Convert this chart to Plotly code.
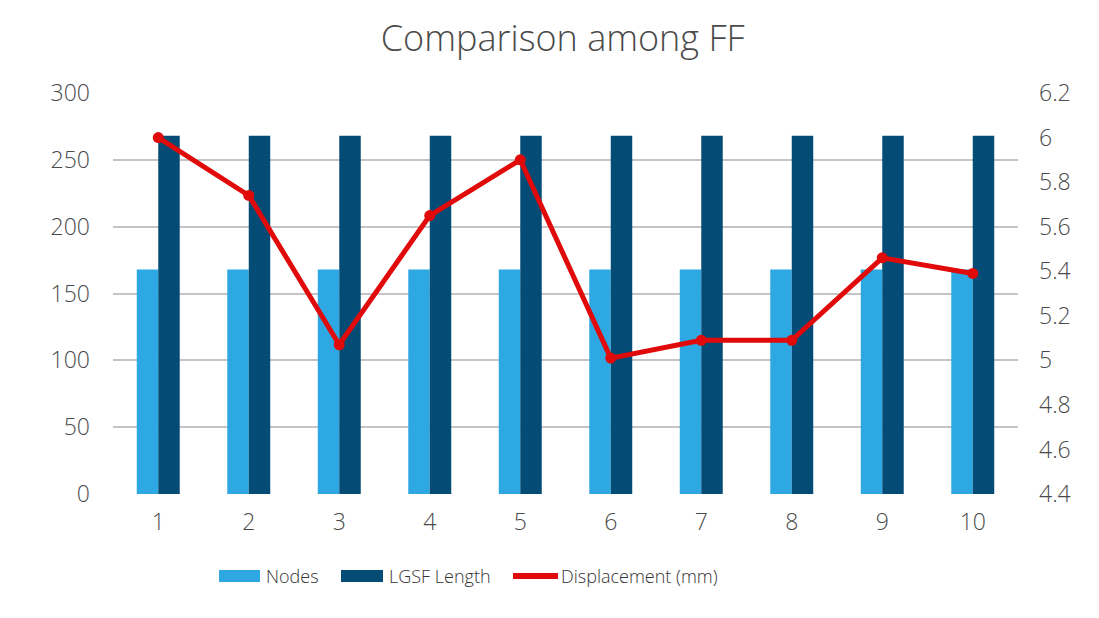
import plotly.graph_objects as go

# Data
categories = ["1", "2", "3", "4", "5", "6", "7", "8", "9", "10"]
nodes = [168, 168, 168, 168, 168, 168, 168, 168, 168, 168]
lgsf_length = [268, 268, 268, 268, 268, 268, 268, 268, 268, 268]
displacement = [6.0, 5.74, 5.07, 5.65, 5.90, 5.01, 5.09, 5.09, 5.46, 5.39]

left_ticks = [0, 50, 100, 150, 200, 250, 300]
right_ticks = [4.4, 4.6, 4.8, 5.0, 5.2, 5.4, 5.6, 5.8, 6.0, 6.2]
right_tick_text = ["4.4", "4.6", "4.8", "5", "5.2", "5.4", "5.6", "5.8", "6", "6.2"]

NODES_COLOR = "#2EA8E2"
LGSF_COLOR = "#044B76"
LINE_COLOR = "#E10A0A"
TEXT_COLOR = "#4a4a4a"
FONT = "Open Sans"

W, H = 1099, 618
ML, MR, MT, MB = 113, 81, 93, 124
PLOT_W = W - ML - MR
PLOT_H = H - MT - MB

fig = go.Figure()

fig.add_trace(go.Bar(
    x=categories, y=nodes, name="Nodes",
    marker=dict(color=NODES_COLOR, line=dict(width=0)),
    showlegend=False,
))
fig.add_trace(go.Bar(
    x=categories, y=lgsf_length, name="LGSF Length",
    marker=dict(color=LGSF_COLOR, line=dict(width=0)),
    showlegend=False,
))
fig.add_trace(go.Scatter(
    x=categories, y=displacement, name="Displacement (mm)",
    yaxis="y2", mode="lines+markers",
    line=dict(color=LINE_COLOR, width=5),
    marker=dict(color=LINE_COLOR, size=11),
    showlegend=False, cliponaxis=False,
))

tick_font = dict(family=FONT, size=23, color=TEXT_COLOR, weight=300)

fig.update_layout(
    width=W, height=H,
    paper_bgcolor="white", plot_bgcolor="white",
    margin=dict(l=ML, r=MR, t=MT, b=MB, autoexpand=False),
    barmode="group", bargap=0.525, bargroupgap=0,
    font=dict(family=FONT, color=TEXT_COLOR, size=20),
    title=dict(
        text="Comparison among FF",
        x=0.512, xanchor="center", y=1 - 38 / H, yanchor="middle",
        font=dict(family=FONT, size=36, color=TEXT_COLOR, weight=300),
    ),
    xaxis=dict(
        type="category", range=[-0.5, len(categories) - 0.5],
        showgrid=False, zeroline=False, showline=False,
        ticks="", tickfont=tick_font, ticklabelstandoff=12, automargin=False,
    ),
    yaxis=dict(
        range=[0, 300], tickvals=left_ticks, showgrid=True,
        gridcolor="#c4c4c4", gridwidth=2, zeroline=False, showline=False,
        tickfont=tick_font, ticklabelstandoff=22, automargin=False,
    ),
    yaxis2=dict(
        range=[4.4, 6.2], tickvals=right_ticks, ticktext=right_tick_text,
        overlaying="y", side="right", showgrid=False, zeroline=False,
        showline=False, tickfont=tick_font, ticklabelstandoff=20,
        automargin=False,
    ),
)

# Legend drawn below the plot area (paper coordinates relative to plot area)
legend_y = 576

def py(v):
    return (H - MB - v) / PLOT_H

def px(v):
    return (v - ML) / PLOT_W

legend_items = [
    ("rect", NODES_COLOR, 219, 260, "Nodes", 264),
    ("rect", LGSF_COLOR, 341, 383, "LGSF Length", 387),
    ("line", LINE_COLOR, 513, 558, "Displacement (mm)", 559),
]
for kind, color, x0, x1, label, tx in legend_items:
    if kind == "rect":
        fig.add_shape(type="rect", xref="paper", yref="paper",
                      x0=px(x0), x1=px(x1), y0=py(legend_y + 6), y1=py(legend_y - 6),
                      fillcolor=color, line=dict(width=0))
    else:
        fig.add_shape(type="line", xref="paper", yref="paper",
                      x0=px(x0), x1=px(x1), y0=py(legend_y), y1=py(legend_y),
                      line=dict(color=color, width=6))
    fig.add_annotation(text=label, xref="paper", yref="paper",
                       x=px(tx), y=py(legend_y), xanchor="left", yanchor="middle",
                       showarrow=False,
                       font=dict(family=FONT, size=18, color="#333333", weight=300))

fig.write_html("out.html")
